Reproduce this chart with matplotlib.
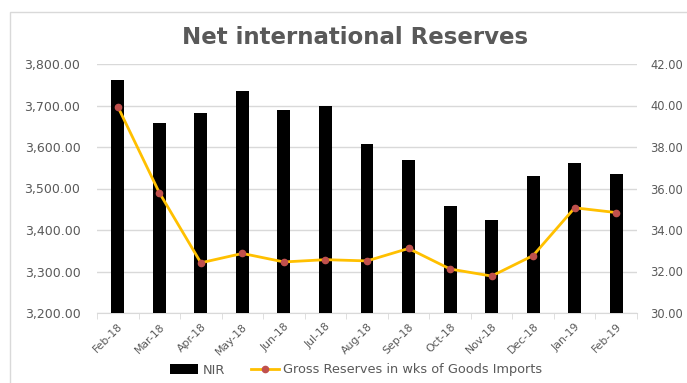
import matplotlib
matplotlib.use("Agg")
import matplotlib.pyplot as plt
from matplotlib.patches import Rectangle
import numpy as np

months = ["Feb-18", "Mar-18", "Apr-18", "May-18", "Jun-18", "Jul-18", "Aug-18",
          "Sep-18", "Oct-18", "Nov-18", "Dec-18", "Jan-19", "Feb-19"]
nir = [3762, 3657, 3683, 3734, 3688, 3700, 3608, 3568, 3459, 3424, 3531, 3561, 3536]
gross_wks = [39.95, 35.80, 32.42, 32.87, 32.46, 32.57, 32.51, 33.11, 32.12, 31.78, 32.77, 35.07, 34.84]

left_ticks = [3200, 3300, 3400, 3500, 3600, 3700, 3800]
right_ticks = [30, 32, 34, 36, 38, 40, 42]

gray = "#595959"
plt.rcParams["font.family"] = ["DejaVu Sans"]

fig = plt.figure(figsize=(6.87, 3.83), dpi=100)
ax = fig.add_axes([97/687, 1-313/383, 540/687, 249/383])
x = np.arange(len(months))
ax.bar(x, nir, width=0.31, color="black", zorder=3, label="NIR")
ax.set_ylim(3200, 3800)
ax.set_xlim(-0.5, len(months)-0.5)
ax.set_yticks(left_ticks)
ax.set_yticklabels([f"{v:,.2f}" for v in left_ticks], color=gray, fontsize=9)
ax.grid(axis="y", color="#d9d9d9", linewidth=1, zorder=0)
ax.set_xticks(x)
ax.set_xticklabels(months, rotation=45, ha="right", rotation_mode="anchor",
                   color=gray, fontsize=7.8)
ax.set_xticks(np.arange(-0.5, len(months), 1), minor=True)
ax.tick_params(axis="x", which="major", length=0, pad=6)
ax.tick_params(axis="x", which="minor", length=4, color="#d9d9d9")
ax.tick_params(axis="y", length=0, pad=12)
for s in ["top", "left", "right"]:
    ax.spines[s].set_visible(False)
ax.spines["bottom"].set_color("#d9d9d9")

ax2 = ax.twinx()
ax2.plot(x, gross_wks, color="#FFC000", linewidth=2, marker="o", markersize=4.5,
         markerfacecolor="#C0504D", markeredgecolor="#C0504D", zorder=4,
         label="Gross Reserves in wks of Goods Imports")
ax2.set_ylim(30, 42)
ax2.set_yticks(right_ticks)
ax2.set_yticklabels([f"{v:.2f}" for v in right_ticks], color=gray, fontsize=8.3)
ax2.tick_params(axis="y", length=0, pad=9.5)
for s in ["top", "left", "right", "bottom"]:
    ax2.spines[s].set_visible(False)

fig.text(355/687, 1-37/383, "Net international Reserves", ha="center", va="center",
         fontsize=16.5, fontweight="bold", color=gray)

h1, l1 = ax.get_legend_handles_labels()
h2, l2 = ax2.get_legend_handles_labels()
fig.legend(h1 + h2, l1 + l2, loc="center", bbox_to_anchor=(356/687, 1-370/383),
           ncol=2, frameon=False, fontsize=9.3, labelcolor=gray,
           handlelength=2.2, columnspacing=2.0, handletextpad=0.3)

fig.patches.append(Rectangle((10/687, -0.05), 1.0, 1-12/383+0.05, transform=fig.transFigure,
                             fill=False, edgecolor="#d9d9d9", linewidth=1))

fig.savefig("out.png", dpi=100)
